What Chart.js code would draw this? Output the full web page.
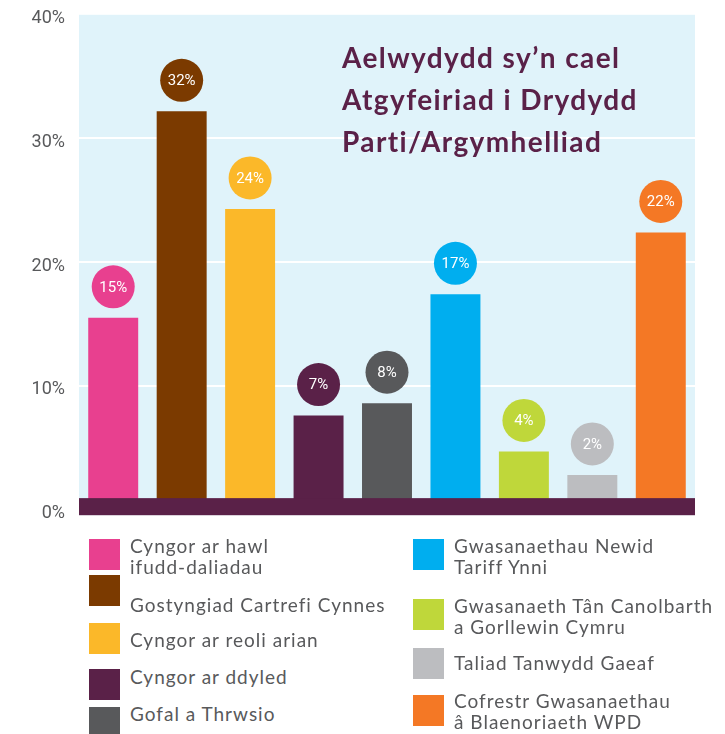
<!DOCTYPE html>
<html>
<head>
<meta charset="utf-8">
<script src="https://cdn.jsdelivr.net/npm/chart.js@4"></script>
<style>
    body { margin: 0; background: #fff; }
    #wrap { position: relative; width: 725px; height: 734px; overflow: hidden; }
    #activity { position: absolute; left: 0; top: -10px; }
    #title { position: absolute; left: 342px; top: 36px; color: #5a2148; font: bold 28px/42px Lato, sans-serif; letter-spacing: 1.4px; white-space: nowrap; }
    .swatch { position: absolute; width: 31px; height: 31px; }
    .legendText { position: absolute; color: #58595b; font: 19px/21px Lato, sans-serif; letter-spacing: 1px; white-space: pre-line; }
</style>
</head>
<body>
<div id="wrap">
    <canvas id="activity" width="725" height="550"></canvas>
    <div id="title"></div>
    <div id="legend"></div>
</div>
<script>
const categories = [
    'Cyngor ar hawl\nifudd-daliadau',
    'Gostyngiad Cartrefi Cynnes',
    'Cyngor ar reoli arian',
    'Cyngor ar ddyled',
    'Gofal a Thrwsio',
    'Gwasanaethau Newid\nTariff Ynni',
    'Gwasanaeth Tân Canolbarth\na Gorllewin Cymru',
    'Taliad Tanwydd Gaeaf',
    'Cofrestr Gwasanaethau\nâ Blaenoriaeth WPD',
];
const values = [15.5, 32.2, 24.3, 7.6, 8.6, 17.4, 4.7, 2.8, 22.4];
const valueLabels = ['15%', '32%', '24%', '7%', '8%', '17%', '4%', '2%', '22%'];
const colours = ['#e8408f', '#7b3a00', '#fbb829', '#5a2148', '#58595b', '#00aeef', '#bfd73a', '#bcbdc0', '#f47825'];
const yTicks = [0, 10, 20, 30, 40];
const titleLines = ['Aelwydydd sy’n cael', 'Atgyfeiriad i Drydydd', 'Parti/Argymhelliad'];

// legend placement: [left, swatchTop, first line centre]
const legendSpots = [
    [89, 539, 545], [89, 575, 604], [89, 623, 639], [89, 669, 676], [89, 707, 713],
    [413, 539, 545], [413, 599, 605], [413, 648, 662], [413, 695, 700],
];

document.getElementById('title').innerHTML = titleLines.join('<br>');

const legend = document.getElementById('legend');
categories.forEach((name, i) => {
    const [left, top, textMid] = legendSpots[i];
    const sw = document.createElement('div');
    sw.className = 'swatch';
    sw.style.left = left + 'px';
    sw.style.top = top + 'px';
    sw.style.background = colours[i];
    legend.appendChild(sw);
    const txt = document.createElement('div');
    txt.className = 'legendText';
    txt.style.left = (left + 41) + 'px';
    txt.style.top = (textMid - 10.5) + 'px';
    txt.textContent = name;
    legend.appendChild(txt);
});

const bandTop = 0.92;

const decorations = {
    id: 'decorations',
    beforeDraw(chart) {
        const { ctx, chartArea } = chart;
        ctx.save();
        ctx.fillStyle = '#e0f3fa';
        ctx.fillRect(chartArea.left, chartArea.top, chartArea.width, chartArea.height);
        ctx.restore();
    },
    afterDatasetsDraw(chart) {
        const { ctx, chartArea } = chart;
        const y = chart.scales.y;
        ctx.save();
        const bandY = y.getPixelForValue(bandTop);
        ctx.fillStyle = '#5a2148';
        ctx.fillRect(chartArea.left, bandY, chartArea.width, chartArea.bottom - bandY);

        chart.getDatasetMeta(0).data.forEach((bar, i) => {
            const cy = bar.y - 31;
            ctx.beginPath();
            ctx.arc(bar.x, cy, 21.5, 0, Math.PI * 2);
            ctx.fillStyle = colours[i];
            ctx.fill();
            ctx.fillStyle = '#fff';
            ctx.font = '15px Roboto';
            ctx.textAlign = 'center';
            ctx.textBaseline = 'middle';
            ctx.fillText(valueLabels[i], bar.x, cy + 1);
        });
        ctx.restore();
    },
};

new Chart(document.getElementById('activity'), {
    type: 'bar',
    data: {
        labels: categories,
        datasets: [
            {
                data: values,
                backgroundColor: colours,
                borderWidth: 0,
                barPercentage: 0.73,
                categoryPercentage: 1,
            },
        ],
    },
    options: {
        responsive: false,
        animation: false,
        layout: {
            padding: { left: 0, right: 30, top: 0, bottom: 0 },
        },
        scales: {
            x: {
                display: false,
            },
            y: {
                min: -0.46,
                max: 40,
                afterBuildTicks: (scale) => {
                    scale.ticks = yTicks.map((v) => ({ value: v }));
                },
                afterFit: (scale) => {
                    scale.width = 79;
                },
                ticks: {
                    callback: (v) => `${v}%`,
                    color: '#58595b',
                    padding: 14,
                    labelOffset: 4,
                    font: { family: 'Roboto', size: 18 },
                },
                grid: {
                    color: (c) => (c.tick && (c.tick.value === 0 || c.tick.value === 40) ? 'rgba(0,0,0,0)' : '#ffffff'),
                    lineWidth: 2,
                    drawTicks: false,
                },
                border: { display: false },
            },
        },
        plugins: {
            legend: { display: false },
            tooltip: { enabled: false },
        },
    },
    plugins: [decorations],
});
</script>
</body>
</html>
